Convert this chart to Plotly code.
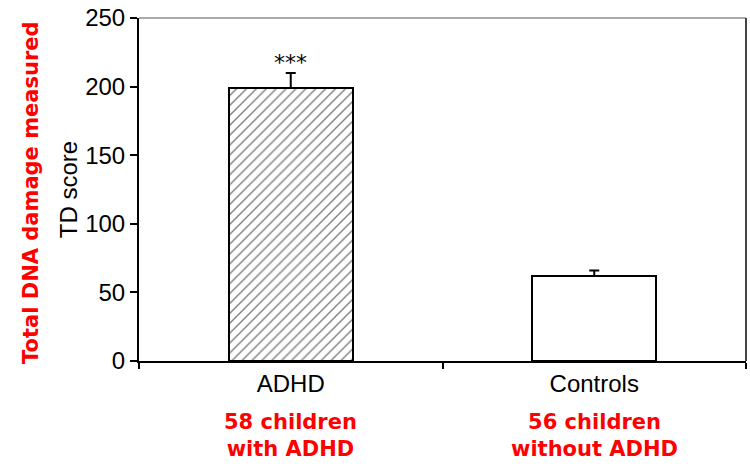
import plotly.graph_objects as go

categories = ["ADHD", "Controls"]
td_score = [199, 62]
sem = [11, 4]
significance = ["***", ""]
group_notes = ["58 children<br>with ADHD", "56 children<br>without ADHD"]
y_ticks = [0, 50, 100, 150, 200, 250]

fig = go.Figure()
fig.add_trace(go.Bar(
    x=categories, y=td_score,
    width=0.41,
    marker=dict(
        color="white",
        line=dict(color="black", width=2),
        pattern=dict(shape=["/", ""], fgcolor="black", bgcolor="white", size=7, solidity=0.2),
    ),
    error_y=dict(type="data", array=sem, symmetric=False, arrayminus=[0, 0],
                 color="black", thickness=2, width=5),
    showlegend=False,
))

for c, v, e, s in zip(categories, td_score, sem, significance):
    if s:
        fig.add_annotation(x=c, y=v + e, text=s, showarrow=False, yshift=10,
                           font=dict(family="DejaVu Sans", size=22, color="black"))

for c, note in zip(categories, group_notes):
    fig.add_annotation(x=c, xref="x", y=0, yref="paper", text=note, showarrow=False,
                       yanchor="top", yshift=-47,
                       font=dict(family="DejaVu Sans", size=21, color="#ff0000", weight="bold"))

fig.add_annotation(x=0, xref="paper", y=0.49, yref="paper", text="Total DNA damage measured",
                   textangle=-90, showarrow=False, xshift=-122,
                   font=dict(family="DejaVu Sans", size=21, color="#ff0000", weight="bold"))

# frame top and right
fig.add_shape(type="line", xref="paper", yref="paper", x0=0, x1=1, y0=1, y1=1,
              line=dict(color="#555555", width=1))
fig.add_shape(type="line", xref="paper", yref="paper", x0=1, x1=1, y0=0, y1=1,
              line=dict(color="#444444", width=2))

fig.update_layout(
    width=750, height=466,
    margin=dict(l=139, r=4, t=16, b=105),
    plot_bgcolor="white", paper_bgcolor="white",
    font=dict(family="Liberation Sans, Arial", size=24, color="black"),
    xaxis=dict(range=[-0.5, 1.5], showline=True, linecolor="black", linewidth=2,
               ticks="outside", tickson="boundaries", ticklen=6, tickwidth=2, tickcolor="black",
               showgrid=False, tickfont=dict(size=24), zeroline=False),
    yaxis=dict(range=[0, 250], tickvals=y_ticks, showline=True, linecolor="black", linewidth=2,
               ticks="outside", ticklen=7, tickwidth=2, tickcolor="black", showgrid=False,
               zeroline=False, tickfont=dict(size=24),
               title=dict(text="TD score", font=dict(size=24), standoff=1)),
    bargap=0,
)

fig.write_html("out.html")
